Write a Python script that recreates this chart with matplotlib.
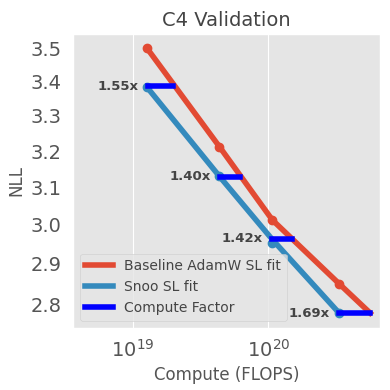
import numpy as np
import matplotlib
matplotlib.use("Agg")
import matplotlib.pyplot as plt

plt.style.use("ggplot")

# ==== Data ====
flops = [1.27e19, 4.35e19, 1.07e20, 3.33e20]
base_nll = [3.50, 3.212, 3.013, 2.85]
snoo_nll = [3.383, 3.13, 2.953, 2.778]

# fitted curves (points along the drawn fit lines)
base_fit_flops = [1.27e19, 4.35e19, 1.07e20, 3.33e20, 5.65e20]
base_fit_nll = [3.50, 3.212, 3.013, 2.85, 2.778]
snoo_fit_flops = [1.27e19, 4.35e19, 1.07e20, 3.33e20]
snoo_fit_nll = [3.383, 3.13, 2.962, 2.778]

# compute factor bars
bar_flops = [1.28e19, 4.37e19, 1.06e20, 3.33e20]
bar_nll = [3.386, 3.129, 2.964, 2.778]
factors = [1.55, 1.40, 1.42, 1.69]

yticks = [2.8, 2.9, 3.0, 3.1, 3.2, 3.3, 3.4, 3.5]

red = "#E24A33"
blue = "#348ABD"

fig, ax = plt.subplots(figsize=(3.9, 3.9), dpi=100)

ax.plot(base_fit_flops, base_fit_nll, color=red, lw=4, label="Baseline AdamW SL fit")
ax.plot(flops, base_nll, "o", color=red, ms=6)
ax.plot(snoo_fit_flops, snoo_fit_nll, color=blue, lw=4, label="Snoo SL fit")
ax.plot(flops, snoo_nll, "o", color=blue, ms=6)

for i, (x0, y0, f) in enumerate(zip(bar_flops, bar_nll, factors)):
    ax.plot([x0, x0 * f], [y0, y0], color="blue", lw=4, solid_capstyle="projecting",
            label="Compute Factor" if i == 0 else None)
    ax.text(x0 / 1.17, y0, f"{f:.2f}x", ha="right", va="center",
            fontsize=9.5, fontweight="bold", color="#444444")

ax.set_xscale("log")
ax.set_yscale("log")
ax.set_xlim(3.6e18, 6.7e20)
ax.set_ylim(2.743, 3.543)
ax.set_yticks(yticks)
ax.set_yticks([], minor=True)
ax.set_yticklabels([f"{v:.1f}" for v in yticks])
ax.yaxis.grid(False)
ax.tick_params(axis="both", which="major", labelsize=14, length=0, pad=8)
ax.tick_params(axis="both", which="minor", length=0)

ax.set_title("C4 Validation", fontsize=14, color="#444444")
ax.set_xlabel("Compute (FLOPS)", fontsize=12)
ax.set_ylabel("NLL", fontsize=12)
ax.legend(loc="lower left", fontsize=10, labelcolor="#444444")

fig.subplots_adjust(left=0.187, right=0.975, top=0.912, bottom=0.16)
fig.savefig("out.png", dpi=100)
